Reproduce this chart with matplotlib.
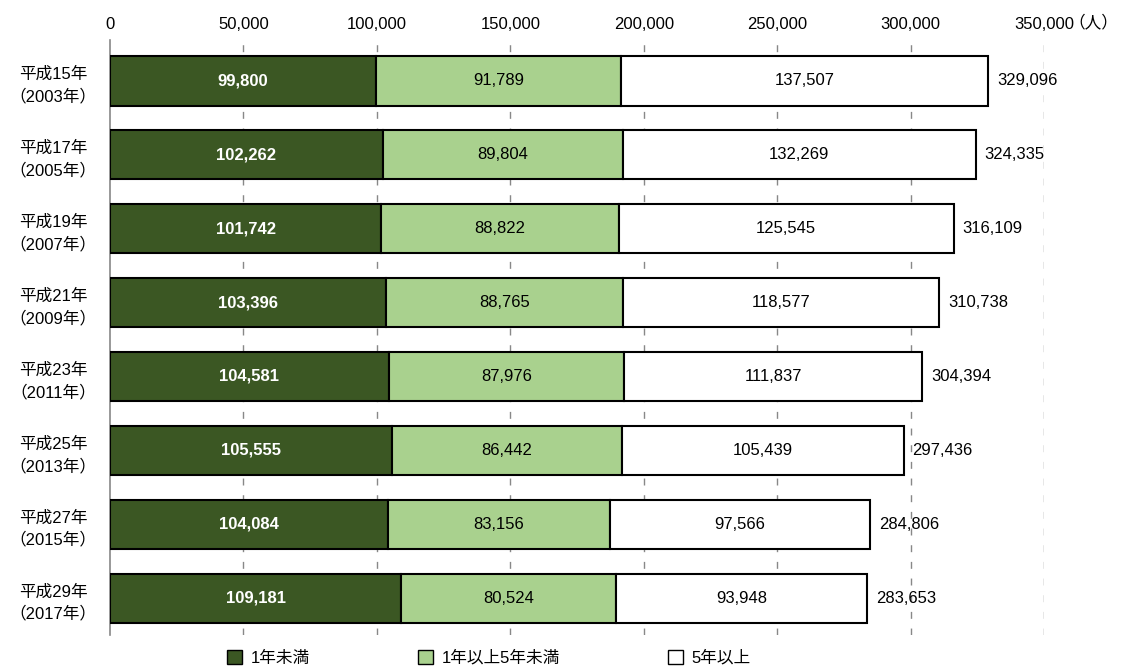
import matplotlib
matplotlib.use('Agg')
import matplotlib.pyplot as plt
import numpy as np
from matplotlib.patches import Patch

plt.rcParams['font.family'] = ['Liberation Sans', 'Noto Sans CJK JP', 'DejaVu Sans']

years = ['平成15年\n（2003年）', '平成17年\n（2005年）', '平成19年\n（2007年）', '平成21年\n（2009年）',
         '平成23年\n（2011年）', '平成25年\n（2013年）', '平成27年\n（2015年）', '平成29年\n（2017年）']
under1 = [99800, 102262, 101742, 103396, 104581, 105555, 104084, 109181]
one_to5 = [91789, 89804, 88822, 88765, 87976, 86442, 83156, 80524]
over5 = [137507, 132269, 125545, 118577, 111837, 105439, 97566, 93948]
series_names = ['1年未満', '1年以上5年未満', '5年以上']
xticks = [0, 50000, 100000, 150000, 200000, 250000, 300000, 350000]

dark = '#3b5723'
light = '#a9d18e'

fig = plt.figure(figsize=(11.37, 6.68), dpi=100)
ax = fig.add_axes([0.0967, 0.049, 0.8215, 0.891])

y = np.arange(len(years))
h = 0.67
under1 = np.array(under1)
one_to5 = np.array(one_to5)
over5 = np.array(over5)
total = under1 + one_to5 + over5

ax.barh(y, under1, h, color=dark, edgecolor='black', linewidth=1.5, zorder=3)
ax.barh(y, one_to5, h, left=under1, color=light, edgecolor='black', linewidth=1.5, zorder=3)
ax.barh(y, over5, h, left=under1 + one_to5, color='white', edgecolor='black', linewidth=1.5, zorder=3)

for i in range(len(years)):
    ax.text(under1[i] / 2, y[i], f'{under1[i]:,}', ha='center', va='center',
            color='white', fontsize=12, fontweight='bold', zorder=4)
    ax.text(under1[i] + one_to5[i] / 2, y[i], f'{one_to5[i]:,}', ha='center', va='center',
            color='black', fontsize=12, zorder=4)
    ax.text(under1[i] + one_to5[i] + over5[i] / 2, y[i], f'{over5[i]:,}', ha='center', va='center',
            color='black', fontsize=12, zorder=4)
    ax.text(total[i] + 3300, y[i], f'{total[i]:,}', ha='left', va='center',
            color='black', fontsize=12, zorder=4)

ax.set_xlim(0, 350000)
ax.set_ylim(7.5, -0.55)
ax.xaxis.tick_top()
ax.set_xticks(xticks)
ax.set_xticklabels([f'{v:,}' for v in xticks], fontsize=12)
ax.tick_params(axis='x', length=0, pad=6)
ax.set_yticks(y)
ax.set_yticklabels(years, fontsize=12, ha='center', linespacing=1.5)
ax.tick_params(axis='y', length=0, pad=41)

for v in xticks[1:]:
    ax.axvline(v, color='#888888', linewidth=1, linestyle=(0, (5, 7)), zorder=1)

for s in ['top', 'right', 'bottom']:
    ax.spines[s].set_visible(False)
ax.spines['left'].set_color('#888888')
ax.spines['left'].set_linewidth(1.2)

fig.text(0.962, 0.966, '（人）', fontsize=12, ha='center', va='center')

handles = [Patch(facecolor=dark, edgecolor='black'),
           Patch(facecolor=light, edgecolor='black'),
           Patch(facecolor='white', edgecolor='black')]
fig.legend(handles, series_names, loc='center', bbox_to_anchor=(0.43, 0.015), ncol=3,
           frameon=False, fontsize=12, handlelength=0.9, handleheight=0.9,
           handletextpad=0.5, columnspacing=6.5)

fig.savefig('out.png', dpi=100)
